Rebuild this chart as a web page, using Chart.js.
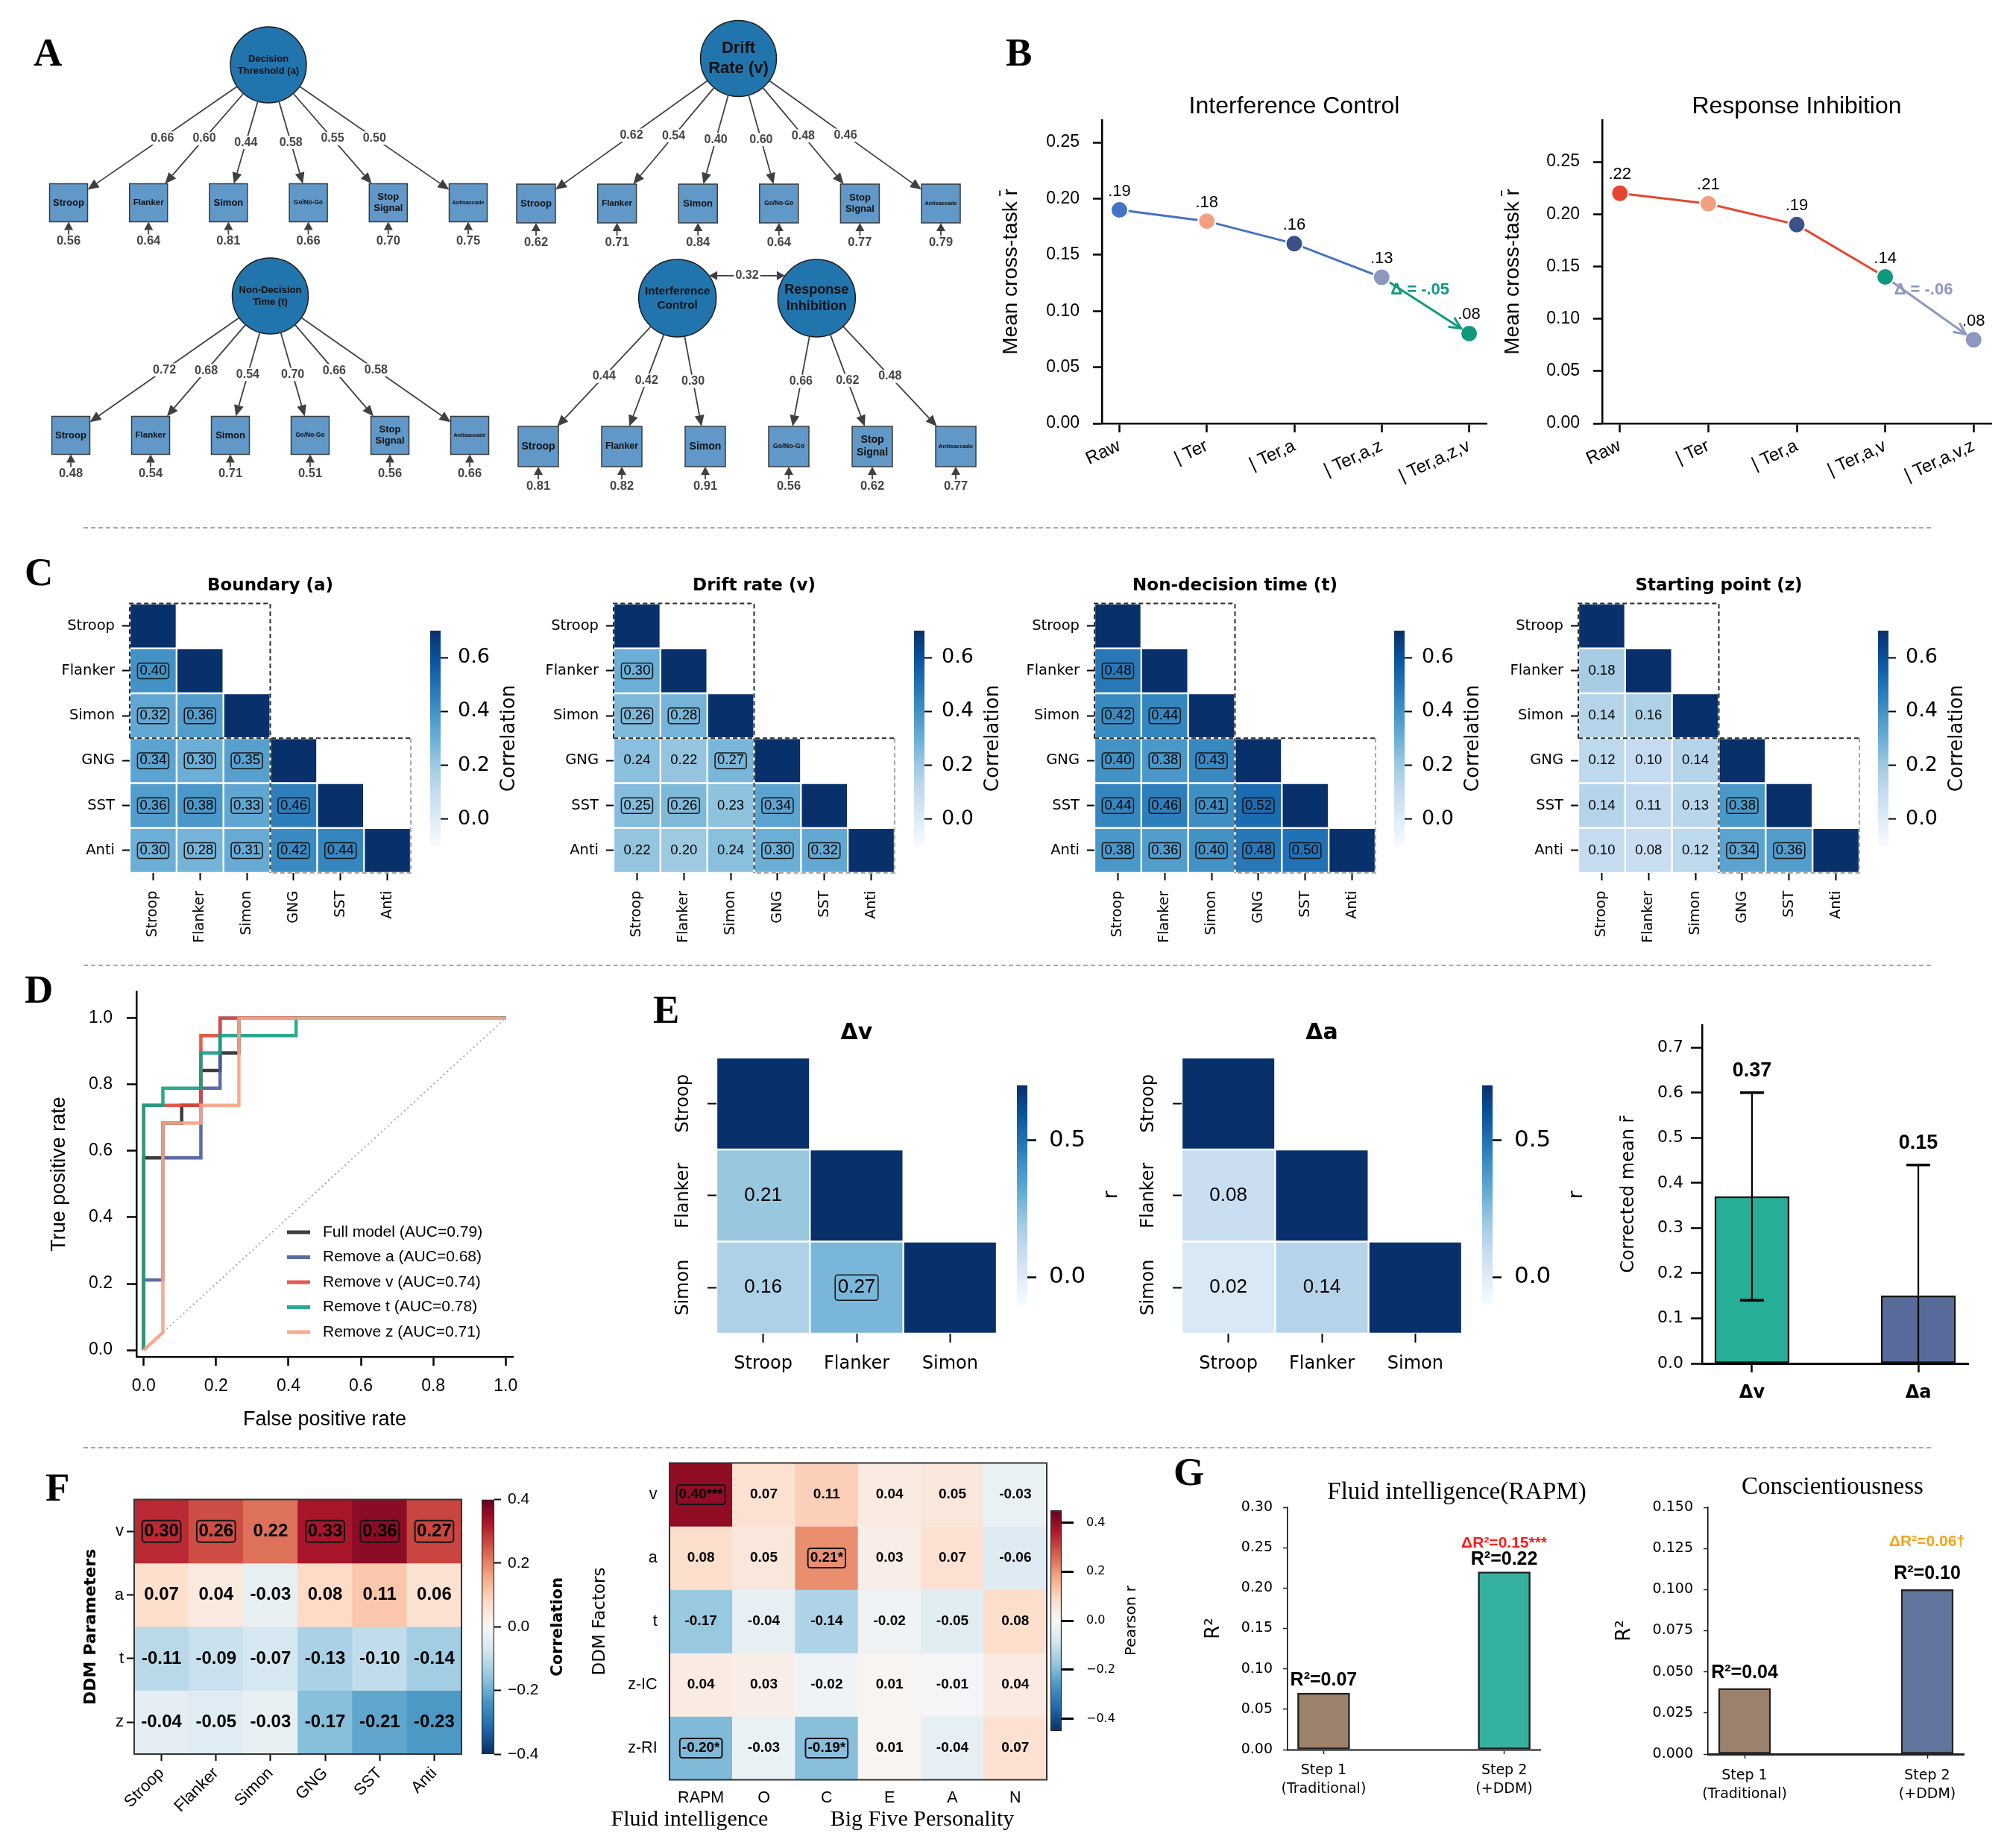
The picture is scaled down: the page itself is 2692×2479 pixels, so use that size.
<!DOCTYPE html>
<html><head><meta charset="utf-8">
<script src="https://cdn.jsdelivr.net/npm/chart.js@4.4.1/dist/chart.umd.min.js"></script>
<style>
html,body{margin:0;padding:0;background:#fff;}
#root{position:relative;width:2692px;height:2479px;overflow:hidden;background:#fff;}
.lbl{position:absolute;font-family:"Liberation Serif","Times New Roman",serif;font-weight:bold;font-size:53px;line-height:53px;color:#000;}
.sep{position:absolute;height:0;border-top:2px dashed #a8a8a8;}
</style></head>
<body><div id="root">
<div class="lbl" style="left:45px;top:44px">A</div>
<div class="lbl" style="left:1349px;top:44px">B</div>
<div class="lbl" style="left:33px;top:741px">C</div>
<div class="lbl" style="left:33px;top:1301px">D</div>
<div class="lbl" style="left:876px;top:1328px">E</div>
<div class="lbl" style="left:61px;top:1969px">F</div>
<div class="lbl" style="left:1574px;top:1948px">G</div>
<div class="sep" style="left:112px;top:707px;width:2478px"></div>
<div class="sep" style="left:112px;top:1294px;width:2478px"></div>
<div class="sep" style="left:112px;top:1941px;width:2478px"></div>
</div>
<script>
// ======================= DATA =======================
// Panel A – SEM loadings / residuals
const semIndicators = ['Stroop','Flanker','Simon','Go/No-Go','Stop\nSignal','Antisaccade'];
const semThresholdLoadings = [0.66,0.60,0.44,0.58,0.55,0.50];
const semThresholdErrors   = [0.56,0.64,0.81,0.66,0.70,0.75];
const semDriftLoadings     = [0.62,0.54,0.40,0.60,0.48,0.46];
const semDriftErrors       = [0.62,0.71,0.84,0.64,0.77,0.79];
const semNdtLoadings       = [0.72,0.68,0.54,0.70,0.66,0.58];
const semNdtErrors         = [0.48,0.54,0.71,0.51,0.56,0.66];
const semTwoFactorNames    = ['Interference\nControl','Response\nInhibition'];
const semTwoFactorOf       = [0,0,0,1,1,1];
const semTwoFactorLoadings = [0.44,0.42,0.30,0.66,0.62,0.48];
const semTwoFactorErrors   = [0.81,0.82,0.91,0.56,0.62,0.77];
const semTwoFactorCov      = 0.32;

// Panel B
const bStagesIC = ['Raw','| Ter','| Ter,a','| Ter,a,z','| Ter,a,z,v'];
const bValuesIC = [0.19,0.18,0.16,0.13,0.08];
const bStagesRI = ['Raw','| Ter','| Ter,a','| Ter,a,v','| Ter,a,v,z'];
const bValuesRI = [0.22,0.21,0.19,0.14,0.08];
const bTicks = [0,0.05,0.10,0.15,0.20,0.25];

// Panel C
const cTasks = ['Stroop','Flanker','Simon','GNG','SST','Anti'];
const cTaskGroups = [3,3];
const cTitles = ['Boundary (a)','Drift rate (v)','Non-decision time (t)','Starting point (z)'];
const cBoundary = [[1],[0.40,1],[0.32,0.36,1],[0.34,0.30,0.35,1],[0.36,0.38,0.33,0.46,1],[0.30,0.28,0.31,0.42,0.44,1]];
const cDrift    = [[1],[0.30,1],[0.26,0.28,1],[0.24,0.22,0.27,1],[0.25,0.26,0.23,0.34,1],[0.22,0.20,0.24,0.30,0.32,1]];
const cNdt      = [[1],[0.48,1],[0.42,0.44,1],[0.40,0.38,0.43,1],[0.44,0.46,0.41,0.52,1],[0.38,0.36,0.40,0.48,0.50,1]];
const cStart    = [[1],[0.18,1],[0.14,0.16,1],[0.12,0.10,0.14,1],[0.14,0.11,0.13,0.38,1],[0.10,0.08,0.12,0.34,0.36,1]];
const cColorTicks = [0,0.2,0.4,0.6];

// Panel D – ROC curves
const dModels = ['Full model','Remove a','Remove v','Remove t','Remove z'];
const dAUC = [0.79,0.68,0.74,0.78,0.71];
const dFpr = [
  [0,0,0.053,0.053,0.105,0.105,0.158,0.158,0.211,0.211,0.263,0.263,1],
  [0,0,0.053,0.053,0.158,0.158,0.211,0.211,1],
  [0,0,0.158,0.158,0.211,0.211,1],
  [0,0,0.053,0.053,0.158,0.158,0.211,0.211,0.421,0.421,1],
  [0,0.053,0.053,0.158,0.158,0.263,0.263,1]
];
const dTpr = [
  [0,0.579,0.579,0.684,0.684,0.737,0.737,0.842,0.842,0.895,0.895,1,1],
  [0,0.211,0.211,0.579,0.579,0.789,0.789,1,1],
  [0,0.737,0.737,0.947,0.947,1,1],
  [0,0.737,0.737,0.789,0.789,0.895,0.895,0.947,0.947,1,1],
  [0,0.053,0.684,0.684,0.737,0.737,1,1]
];
const dTicks = [0,0.2,0.4,0.6,0.8,1.0];

// Panel E
const eTasks = ['Stroop','Flanker','Simon'];
const eDeltaV = [[1],[0.21,1],[0.16,0.27,1]];
const eDeltaA = [[1],[0.08,1],[0.02,0.14,1]];
const eColorTicks = [0,0.5];
const eBarLabels = ['Δv','Δa'];
const eBarMeans = [0.37,0.15];
const eBarErr = [0.23,0.29];
const eBarTicks = [0,0.1,0.2,0.3,0.4,0.5,0.6,0.7];

// Panel F
const fParams = ['v','a','t','z'];
const fTasks = ['Stroop','Flanker','Simon','GNG','SST','Anti'];
const fTaskCorr = [
  [0.30,0.26,0.22,0.33,0.36,0.27],
  [0.07,0.04,-0.03,0.08,0.11,0.06],
  [-0.11,-0.09,-0.07,-0.13,-0.10,-0.14],
  [-0.04,-0.05,-0.03,-0.17,-0.21,-0.23]
];
const fFactors = ['v','a','t','z-IC','z-RI'];
const fOutcomes = ['RAPM','O','C','E','A','N'];
const fOutcomeCorr = [
  [0.40,0.07,0.11,0.04,0.05,-0.03],
  [0.08,0.05,0.21,0.03,0.07,-0.06],
  [-0.17,-0.04,-0.14,-0.02,-0.05,0.08],
  [0.04,0.03,-0.02,0.01,-0.01,0.04],
  [-0.20,-0.03,-0.19,0.01,-0.04,0.07]
];
const fOutcomeStars = [
  ['***','','','','',''],
  ['','','*','','',''],
  ['','','','','',''],
  ['','','','','',''],
  ['*','','*','','','']
];
const fLeftTicks = [-0.4,-0.2,0,0.2,0.4];
const fRightTicks = [-0.4,-0.2,0,0.2,0.4];

// Panel G
const gSteps = [['Step 1','(Traditional)'],['Step 2','(+DDM)']];
const gRapmR2 = [0.07,0.22];
const gRapmSig = '***';
const gConscR2 = [0.04,0.10];
const gConscSig = '†';
const gRapmTicks = [0,0.05,0.10,0.15,0.20,0.25,0.30];
const gConscTicks = [0,0.025,0.050,0.075,0.100,0.125,0.150];

// ======================= HELPERS =======================
const AR = '"Liberation Sans", Arial, Helvetica, sans-serif';
const DV = '"DejaVu Sans", Verdana, sans-serif';
const TM = '"Liberation Serif", "Times New Roman", serif';
Chart.defaults.font.family = AR;
Chart.defaults.color = '#000';

const BLUES = ['#f7fbff','#deebf7','#c6dbef','#9ecae1','#6baed6','#4292c6','#2171b5','#08519c','#08306b'];
const RDBU_R = ['#053061','#2166ac','#4393c3','#92c5de','#d1e5f0','#f7f7f7','#fddbc7','#f4a582','#d6604d','#b2182b','#67001f'];
function hexRgb(h){return [parseInt(h.slice(1,3),16),parseInt(h.slice(3,5),16),parseInt(h.slice(5,7),16)];}
function cmap(stops,t){
  t=Math.max(0,Math.min(1,t));
  const n=stops.length-1,f=t*n,i=Math.min(Math.floor(f),n-1),u=f-i;
  const a=hexRgb(stops[i]),b=hexRgb(stops[i+1]);
  return 'rgb('+Math.round(a[0]+(b[0]-a[0])*u)+','+Math.round(a[1]+(b[1]-a[1])*u)+','+Math.round(a[2]+(b[2]-a[2])*u)+')';
}
function fsOf(font){const m=/([\d.]+)px/.exec(font);return m?parseFloat(m[1]):12;}
function txt(ctx,s,x,y,font,color,align,base,rot,lh){
  ctx.save();
  ctx.font=font;ctx.fillStyle=color||'#000';
  ctx.textAlign=align||'center';ctx.textBaseline=base||'middle';
  ctx.translate(x,y);if(rot)ctx.rotate(rot);
  const lines=String(s).split('\n');const L=lh||fsOf(font)*1.2;
  lines.forEach((ln,i)=>ctx.fillText(ln,0,(i-(lines.length-1)/2)*L));
  ctx.restore();
}
function rrect(ctx,x,y,w,h,r){ctx.beginPath();ctx.moveTo(x+r,y);ctx.arcTo(x+w,y,x+w,y+h,r);ctx.arcTo(x+w,y+h,x,y+h,r);ctx.arcTo(x,y+h,x,y,r);ctx.arcTo(x,y,x+w,y,r);ctx.closePath();}
function boxedText(ctx,s,x,y,font,boxed,padX,h,lw){
  if(boxed){ctx.save();ctx.font=font;const w=ctx.measureText(s).width+2*padX;rrect(ctx,x-w/2,y-h/2,w,h,3.5);ctx.lineWidth=lw;ctx.strokeStyle='#151515';ctx.stroke();ctx.restore();}
  txt(ctx,s,x,y,font,'#000');
}
function labelBg(ctx,s,x,y,font,color){
  ctx.save();ctx.font=font;const w=ctx.measureText(s).width+4;const fs=fsOf(font);
  ctx.fillStyle='#fff';ctx.fillRect(x-w/2,y-fs*0.55,w,fs*1.1);ctx.restore();
  txt(ctx,s,x,y,font,color);
}
function arrow(ctx,x1,y1,x2,y2,hl,hw,color,lw){
  const a=Math.atan2(y2-y1,x2-x1),c=Math.cos(a),s=Math.sin(a);
  const bx=x2-hl*c,by=y2-hl*s;
  ctx.save();ctx.strokeStyle=color;ctx.fillStyle=color;ctx.lineWidth=lw;
  ctx.beginPath();ctx.moveTo(x1,y1);ctx.lineTo(bx,by);ctx.stroke();
  ctx.beginPath();ctx.moveTo(x2,y2);ctx.lineTo(bx-hw*s,by+hw*c);ctx.lineTo(bx+hw*s,by-hw*c);ctx.closePath();ctx.fill();
  ctx.restore();
}
const root=document.getElementById('root');
function mk(area,ax,cfg,ex){
  ax=Object.assign({left:0,right:0,top:0,bottom:0},ax||{});
  ex=Object.assign({l:30,r:40,t:40,b:30},ex||{});
  const L=Math.floor(area[0]-ax.left-ex.l),T=Math.floor(area[1]-ax.top-ex.t);
  const R=Math.ceil(area[2]+ax.right+ex.r),B=Math.ceil(area[3]+ax.bottom+ex.b);
  const W=R-L,H=B-T;
  const cv=document.createElement('canvas');
  cv.width=W;cv.height=H;
  cv.style.cssText='position:absolute;left:'+L+'px;top:'+T+'px;width:'+W+'px;height:'+H+'px;';
  root.appendChild(cv);
  const o=cfg.options=cfg.options||{};
  o.responsive=false;o.maintainAspectRatio=false;o.animation=false;o.devicePixelRatio=1;o.events=[];
  o.layout={autoPadding:false,padding:{left:area[0]-ax.left-L,right:R-area[2]-ax.right,top:area[1]-ax.top-T,bottom:B-area[3]-ax.bottom}};
  for(const k in o.scales){
    const s=o.scales[k];
    const pos=s.position||(k[0]==='x'?'bottom':'left');
    s.position=pos;
    const size=ax[pos];
    s.afterFit=(sc)=>{if(pos==='left'||pos==='right')sc.width=size;else sc.height=size;};
  }
  o.plugins=Object.assign({legend:{display:false},tooltip:{enabled:false},title:{display:false}},o.plugins||{});
  return new Chart(cv.getContext('2d'),cfg);
}
function tickGrid(len,w,color){return {display:true,drawOnChartArea:false,drawTicks:len>0,tickLength:len,tickWidth:w,tickColor:color||'#000',offset:false};}

// ======================= PANEL A =======================
const semBoxFont={'Stroop':13,'Flanker':11.5,'Simon':13,'Go/No-Go':8.3,'Stop\nSignal':13,'Antisaccade':7.3};
function semTree(geo,factorNames,factorFont,factorOf,loadings,errors,cov){
  const ux=(geo.x5-geo.x0)/5,uy=geo.yi-geo.yf;
  const area=[geo.x0-0.6*ux,geo.yf-0.35*uy,geo.x5+0.6*ux,geo.yi+0.55*uy];
  const nF=factorNames.length;
  const fPos=factorNames.map((_,k)=>5*(k+1)/(nF+1));
  mk(area,{},{
    type:'scatter',
    data:{datasets:[
      {data:semIndicators.map((_,i)=>({x:i,y:0})),pointStyle:'rect',pointRadius:geo.box*Math.SQRT1_2,pointHoverRadius:geo.box*Math.SQRT1_2,
       pointBackgroundColor:'#6198c8',pointBorderColor:'#3a3a3a',pointBorderWidth:1.5,clip:false,showLine:false},
      {data:fPos.map(x=>({x:x,y:1})),pointStyle:'circle',pointRadius:geo.r,pointHoverRadius:geo.r,
       pointBackgroundColor:'#2274ad',pointBorderColor:'#1b1b1b',pointBorderWidth:1.5,clip:false,showLine:false}
    ]},
    options:{scales:{x:{type:'linear',min:-0.6,max:5.6,display:false},y:{type:'linear',min:-0.55,max:1.35,display:false}}},
    plugins:[{id:'sem',afterDatasetsDraw(chart){
      const ctx=chart.ctx,xs=chart.scales.x,ys=chart.scales.y,half=geo.box/2,lc='#404040';
      semIndicators.forEach((name,i)=>{
        const k=factorOf?factorOf[i]:0;
        const fx=xs.getPixelForValue(fPos[k]),fy=ys.getPixelForValue(1);
        const bx=xs.getPixelForValue(i),by=ys.getPixelForValue(0);
        const dx=bx-fx,dy=by-fy,len=Math.hypot(dx,dy);
        const sx=fx+dx/len*geo.r,sy=fy+dy/len*geo.r;
        const tb=Math.min(half/Math.max(Math.abs(dx),1e-6),half/Math.max(Math.abs(dy),1e-6));
        const ex=bx-dx*tb,ey=by-dy*tb;
        arrow(ctx,sx,sy,ex,ey,15,6.5,lc,1.8);
        labelBg(ctx,loadings[i].toFixed(2),(sx+ex)/2,(sy+ey)/2,'bold 16px '+AR,'#454545');
        arrow(ctx,bx,by+half+17,bx,by+half,11,6,lc,1.8);
        txt(ctx,errors[i].toFixed(2),bx,by+half+26,'bold 16.5px '+AR,'#454545');
        const fs=semBoxFont[name]*geo.fs;
        txt(ctx,name,bx,by,'bold '+fs+'px '+AR,'#111','center','middle',0,fs*1.2);
      });
      factorNames.forEach((nm,k)=>{
        txt(ctx,nm,xs.getPixelForValue(fPos[k]),ys.getPixelForValue(1),'bold '+factorFont[k]+'px '+AR,'#111','center','middle',0,factorFont[k]*1.22);
      });
      if(cov!=null&&nF===2){
        const y=ys.getPixelForValue(1)-0.58*geo.r;
        const x1=xs.getPixelForValue(fPos[0])+0.815*geo.r,x2=xs.getPixelForValue(fPos[1])-0.815*geo.r;
        const mx=(x1+x2)/2;
        arrow(ctx,mx,y,x1,y,11,6,lc,1.8);arrow(ctx,mx,y,x2,y,11,6,lc,1.8);
        labelBg(ctx,cov.toFixed(2),mx,y,'bold 16px '+AR,'#454545');
      }
    }}]
  },{l:0,r:0,t:0,b:0});
}
semTree({x0:92,x5:628,yf:87,yi:272,r:51,box:51,fs:1},['Decision\nThreshold (a)'],[13],null,semThresholdLoadings,semThresholdErrors,null);
semTree({x0:719,x5:1262,yf:78.5,yi:273,r:51,box:52,fs:1},['Drift\nRate (v)'],[22],null,semDriftLoadings,semDriftErrors,null);
semTree({x0:95,x5:630,yf:397,yi:584,r:51,box:51,fs:1},['Non-Decision\nTime (t)'],[13],null,semNdtLoadings,semNdtErrors,null);
semTree({x0:722,x5:1282,yf:400,yi:599,r:52,box:54,fs:1.08},semTwoFactorNames,[15.3,18],semTwoFactorOf,semTwoFactorLoadings,semTwoFactorErrors,semTwoFactorCov);

// ======================= PANEL B =======================
function dotFmt(v){return v.toFixed(2).replace(/^(-?)0\./,'$1.');}
function bPanel(area,stages,values,ptColors,lineColor,arrowColor,yMax,title,axLeft){
  const n=values.length;
  mk(area,{left:axLeft,bottom:110},{
    type:'line',
    data:{datasets:[{data:values.map((v,i)=>({x:i,y:v})),borderColor:lineColor,borderWidth:3,tension:0,clip:false,
      segment:{borderColor:c=>c.p0DataIndex===n-2?arrowColor:lineColor},
      pointRadius:11.5,pointHoverRadius:11.5,pointBackgroundColor:ptColors,pointBorderColor:'#ffffff',pointBorderWidth:2}]},
    options:{scales:{
      x:{type:'linear',min:-0.2,max:4.2,afterBuildTicks:s=>{s.ticks=stages.map((_,i)=>({value:i}));},
        ticks:{callback:(v,i)=>stages[i],font:{family:AR,size:24},color:'#000',minRotation:25,maxRotation:25,padding:4,autoSkip:false},
        grid:tickGrid(12,2.5),border:{display:true,color:'#000',width:2.5}},
      y:{type:'linear',min:0,max:yMax,afterBuildTicks:s=>{s.ticks=bTicks.map(v=>({value:v}));},
        ticks:{callback:v=>v.toFixed(2),font:{family:AR,size:23},color:'#000',padding:18},
        grid:tickGrid(12,2.5),border:{display:true,color:'#000',width:2.5},
        title:{display:true,text:'Mean cross-task r\u0304',font:{family:AR,size:28},color:'#000',padding:0}}
    }},
    plugins:[{id:'bAnn',afterDraw(chart){
      const ctx=chart.ctx,xs=chart.scales.x,ys=chart.scales.y,a=chart.chartArea;
      values.forEach((v,i)=>txt(ctx,dotFmt(v),xs.getPixelForValue(i),ys.getPixelForValue(v)-25,'22px '+AR,'#000'));
      const x3=xs.getPixelForValue(n-2),y3=ys.getPixelForValue(values[n-2]);
      const x4=xs.getPixelForValue(n-1),y4=ys.getPixelForValue(values[n-1]);
      const dx=x4-x3,dy=y4-y3,L=Math.hypot(dx,dy);
      const tx=x4-dx/L*13,ty=y4-dy/L*13;
      const an=Math.atan2(dy,dx);
      ctx.save();ctx.strokeStyle=arrowColor;ctx.lineWidth=3;ctx.lineCap='round';
      ctx.beginPath();
      ctx.moveTo(tx-16*Math.cos(an-0.45),ty-16*Math.sin(an-0.45));ctx.lineTo(tx,ty);
      ctx.lineTo(tx-16*Math.cos(an+0.45),ty-16*Math.sin(an+0.45));ctx.stroke();ctx.restore();
      txt(ctx,'Δ = '+dotFmt(values[n-1]-values[n-2]),x3+12,y3+17,'bold 22px '+AR,arrowColor,'left');
      txt(ctx,title,(a.left+a.right)/2,a.top-18,'32px '+AR,'#000');
    }}]
  },{l:10,r:40,t:80,b:20});
}
bPanel([1478,161,1994,568],bStagesIC,bValuesIC,['#4472c4','#f3a082','#3c5188','#8d97c0','#10997e'],'#4472c4','#10997e',0.27,'Interference Control',139);
bPanel([2149,161,2671,568],bStagesRI,bValuesRI,['#e4462f','#f3a082','#3c5188','#10997e','#8d97c0'],'#e4462f','#8d97c0',0.29,'Response Inhibition',137);

// ======================= HEATMAP BUILDERS =======================
const CMIN=-0.1,CMAX=0.7;
function triHeat(o){
  const n=o.tasks.length;
  mk(o.area,{left:o.axLeft,bottom:o.axBottom},{
    type:'bar',
    data:{labels:o.tasks,datasets:o.vals.map((row,i)=>({
      data:o.tasks.map((_,j)=>j<=i?[i,i+1]:null),
      backgroundColor:o.tasks.map((_,j)=>j<=i?cmap(BLUES,(row[j]-CMIN)/(CMAX-CMIN)):'rgba(0,0,0,0)'),
      borderColor:'#ffffff',borderWidth:1.5,borderSkipped:false,barPercentage:1,categoryPercentage:1,grouped:false}))},
    options:{scales:{
      x:{type:'category',offset:true,grid:tickGrid(o.tickLen,2),border:{display:false},
        ticks:{font:{family:DV,size:o.xFont},color:'#000',minRotation:o.xRot,maxRotation:o.xRot,padding:o.xPad,autoSkip:false}},
      y:{type:'linear',min:0,max:n,reverse:true,afterBuildTicks:s=>{s.ticks=o.tasks.map((_,i)=>({value:i+0.5}));},
        grid:tickGrid(o.tickLen,2),border:{display:false},
        ticks:{display:!o.rotY,callback:(v,i)=>o.tasks[i],font:{family:DV,size:o.yFont},color:'#000',padding:o.yPad}}
    }},
    plugins:[{id:'tri',afterDraw(chart){
      const ctx=chart.ctx,a=chart.chartArea,xs=chart.scales.x,ys=chart.scales.y;
      const cw=(a.right-a.left)/n,ch=(a.bottom-a.top)/n;
      o.vals.forEach((row,i)=>row.forEach((v,j)=>{
        if(j>=i)return;
        boxedText(ctx,v.toFixed(2),xs.getPixelForValue(j),ys.getPixelForValue(i+0.5),o.annFont,Math.abs(v)>=0.25,o.boxPad,o.boxH,1.5);
      }));
      if(o.groups){
        const g=o.groups[0];
        ctx.save();ctx.setLineDash([6,4]);ctx.lineWidth=2;ctx.strokeStyle='#2a2a2a';
        ctx.beginPath();
        ctx.moveTo(a.left,a.top+g*ch);ctx.lineTo(a.left,a.top);ctx.lineTo(a.left+g*cw,a.top);ctx.lineTo(a.left+g*cw,a.top+g*ch);
        ctx.moveTo(a.left,a.top+g*ch);ctx.lineTo(a.right,a.top+g*ch);
        ctx.moveTo(a.left+g*cw,a.top+g*ch);ctx.lineTo(a.left+g*cw,a.bottom);
        ctx.stroke();
        ctx.strokeStyle='#a9a9a9';ctx.beginPath();
        ctx.moveTo(a.right,a.top+g*ch);ctx.lineTo(a.right,a.bottom);ctx.lineTo(a.left+g*cw,a.bottom);ctx.stroke();
        ctx.restore();
      }
      if(o.rotY){
        o.tasks.forEach((t,i)=>txt(ctx,t,a.left-o.rotYdx,ys.getPixelForValue(i+0.5),o.yFont+'px '+DV,'#000','center','middle',-Math.PI/2));
      }
      txt(ctx,o.title,(a.left+a.right)/2,a.top-o.titleDy,o.titleFont,'#000');
    }}]
  },{l:30,r:40,t:75,b:30});
}
function colorbar(o){
  mk(o.area,{right:o.axRight},{
    type:'bar',
    data:{labels:[''],datasets:[{data:[[o.vmin,o.vmax]],
      backgroundColor:c=>{const a=c.chart.chartArea;if(!a)return o.stops[0];const g=c.chart.ctx.createLinearGradient(0,a.bottom,0,a.top);o.stops.forEach((s,i)=>g.addColorStop(i/(o.stops.length-1),s));return g;},
      borderColor:'#222',borderWidth:o.border||0,borderSkipped:false,barPercentage:1,categoryPercentage:1}]},
    options:{scales:{
      x:{type:'category',display:false},
      y:{position:'right',type:'linear',min:o.vmin,max:o.vmax,afterBuildTicks:s=>{s.ticks=o.ticks.map(v=>({value:v}));},
        ticks:{callback:o.fmt,font:o.font,color:'#000',padding:o.pad},grid:tickGrid(o.tickLen,o.tickW),border:{display:false}}
    }},
    plugins:[{id:'cbt',afterDraw(chart){
      const a=chart.chartArea;
      if(o.title)txt(chart.ctx,o.title,a.right+o.titleDx,(a.top+a.bottom)/2,o.titleFont,'#000','center','middle',-Math.PI/2);
    }}]
  },{l:10,r:40,t:40,b:40});
}

// ======================= PANEL C =======================
const cData=[cBoundary,cDrift,cNdt,cStart];
const cLeft=[174,823,1468,2117];
const cBar=[577,1226,1870,2519];
cData.forEach((vals,k)=>{
  triHeat({area:[cLeft[k],809.5,cLeft[k]+377,1171],tasks:cTasks,vals:vals,groups:cTaskGroups,
    axLeft:130,axBottom:110,tickLen:10,xFont:19,yFont:19.5,xRot:90,xPad:14,yPad:10,
    annFont:'18.5px '+AR,boxPad:3,boxH:21,title:cTitles[k],titleFont:'bold 23px '+DV,titleDy:23.5});
  colorbar({area:[cBar[k],846,cBar[k]+14,1135],stops:BLUES,vmin:CMIN,vmax:CMAX,ticks:cColorTicks,fmt:v=>v.toFixed(1),
    font:{family:DV,size:27},pad:13,tickLen:10,tickW:2,axRight:110,title:'Correlation',titleFont:'26px '+DV,titleDx:92});
});

// ======================= PANEL D =======================
const dColors=['rgba(45,45,45,0.92)','rgba(72,92,155,0.9)','rgba(226,72,58,0.9)','rgba(22,160,132,0.9)','rgba(246,164,136,0.92)'];
mk([183,1330,688,1820],{left:120,bottom:101},{
  type:'scatter',
  data:{datasets:[{data:[{x:0,y:0},{x:1,y:1}],showLine:true,borderColor:'#aaaaaa',borderWidth:2,borderDash:[2,4],pointRadius:0,order:10}]
    .concat(dModels.map((m,k)=>({data:dFpr[k].map((x,i)=>({x:x,y:dTpr[k][i]})),showLine:true,borderColor:dColors[k],borderWidth:4.5,pointRadius:0,order:dModels.length-k})))},
  options:{scales:{
    x:{type:'linear',min:-0.02,max:1.02,afterBuildTicks:s=>{s.ticks=dTicks.map(v=>({value:v}));},
      ticks:{callback:v=>v.toFixed(1),font:{family:AR,size:23},color:'#000',padding:14},grid:tickGrid(12,2.5),border:{color:'#000',width:2.5},
      title:{display:true,text:'False positive rate',font:{family:AR,size:27},color:'#000',padding:0}},
    y:{type:'linear',min:-0.02,max:1.08,afterBuildTicks:s=>{s.ticks=dTicks.map(v=>({value:v}));},
      ticks:{callback:v=>v.toFixed(1),font:{family:AR,size:23},color:'#000',padding:19},grid:tickGrid(13,2.5),border:{color:'#000',width:2.5},
      title:{display:true,text:'True positive rate',font:{family:AR,size:27},color:'#000',padding:0}}
  }},
  plugins:[{id:'dLeg',afterDraw(chart){
    const a=chart.chartArea,ctx=chart.ctx;
    dModels.forEach((m,k)=>{
      const y=a.top+323+33.5*k;
      ctx.save();ctx.strokeStyle=dColors[k];ctx.lineWidth=5;ctx.beginPath();ctx.moveTo(a.left+202,y);ctx.lineTo(a.left+233,y);ctx.stroke();ctx.restore();
      txt(ctx,m+' (AUC='+dAUC[k].toFixed(2)+')',a.left+250,y,'21px '+AR,'#000','left');
    });
  }}]
});

// ======================= PANEL E =======================
[[961,eDeltaV,'Δv',1364],[1585,eDeltaA,'Δa',1988]].forEach(([x0,vals,title,cbx])=>{
  triHeat({area:[x0,1418.5,x0+376,1789],tasks:eTasks,vals:vals,groups:null,
    axLeft:90,axBottom:80,tickLen:12,xFont:24,yFont:24,xRot:0,xPad:14.6,yPad:10,rotY:true,rotYdx:44,
    annFont:'26px '+AR,boxPad:3.5,boxH:34,title:title,titleFont:'bold 30px '+DV,titleDy:32});
  colorbar({area:[cbx,1456,cbx+14,1750],stops:BLUES,vmin:CMIN,vmax:CMAX,ticks:eColorTicks,fmt:v=>v.toFixed(1),
    font:{family:DV,size:31},pad:17,tickLen:12,tickW:2.5,axRight:110,title:'r',titleFont:'26px '+DV,titleDx:113});
});
mk([2283,1375,2640,1829],{left:113,bottom:70},{
  type:'bar',
  data:{datasets:[{data:eBarMeans.map((v,i)=>({x:i,y:v})),backgroundColor:['#27ae96','#5a6b9b'],borderColor:'#151515',borderWidth:2.5,borderSkipped:false,barThickness:100}]},
  options:{scales:{
    x:{type:'linear',min:-0.3,max:1.3,offset:false,afterBuildTicks:s=>{s.ticks=eBarLabels.map((_,i)=>({value:i}));},
      ticks:{callback:(v,i)=>eBarLabels[i],font:{family:DV,size:24,weight:'bold'},color:'#000',padding:13.6,maxRotation:0,minRotation:0},
      grid:tickGrid(12,2.5),border:{color:'#000',width:3}},
    y:{type:'linear',min:0,max:0.75,afterBuildTicks:s=>{s.ticks=eBarTicks.map(v=>({value:v}));},
      ticks:{callback:v=>v.toFixed(1),font:{family:DV,size:22},color:'#000',padding:10},grid:tickGrid(15,2.5),border:{color:'#000',width:2.5},
      title:{display:true,text:'Corrected mean r\u0304',font:{family:DV,size:24},color:'#000',padding:0}}
  }},
  plugins:[{id:'eErr',afterDatasetsDraw(chart){
    const ctx=chart.ctx,xs=chart.scales.x,ys=chart.scales.y;
    eBarMeans.forEach((m,i)=>{
      const x=xs.getPixelForValue(i),hi=m+eBarErr[i],lo=m-eBarErr[i];
      const yT=ys.getPixelForValue(hi),yB=ys.getPixelForValue(Math.max(lo,0));
      ctx.save();ctx.strokeStyle='#000';ctx.lineWidth=2.2;ctx.beginPath();ctx.moveTo(x,yB);ctx.lineTo(x,yT);ctx.stroke();
      ctx.lineWidth=3.5;ctx.beginPath();ctx.moveTo(x-16,yT);ctx.lineTo(x+16,yT);
      if(lo>=0){ctx.moveTo(x-16,yB);ctx.lineTo(x+16,yB);}
      ctx.stroke();ctx.restore();
      txt(ctx,m.toFixed(2),x,yT-29,'bold 27px '+AR,'#000');
    });
  }}]
});

// ======================= PANEL F =======================
function rectHeat(o){
  const nr=o.rows.length;
  mk(o.area,{left:o.axLeft,bottom:o.axBottom},{
    type:'bar',
    data:{labels:o.cols,datasets:o.vals.map((row,i)=>({data:row.map(()=>[i,i+1]),
      backgroundColor:row.map(v=>cmap(RDBU_R,(v+o.vmax)/(2*o.vmax))),borderWidth:0,barPercentage:1,categoryPercentage:1,grouped:false}))},
    options:{scales:{
      x:{type:'category',offset:true,grid:tickGrid(o.xTick,2),border:{display:false},
        ticks:{font:{family:AR,size:o.xFont},color:'#000',minRotation:o.xRot,maxRotation:o.xRot,padding:o.xPad,autoSkip:false}},
      y:{type:'linear',min:0,max:nr,reverse:true,afterBuildTicks:s=>{s.ticks=o.rows.map((_,i)=>({value:i+0.5}));},
        grid:tickGrid(o.yTick,2),border:{display:false},
        ticks:{callback:(v,i)=>o.rows[i],font:{family:AR,size:o.yFont},color:'#000',padding:o.yPad},
        title:{display:true,text:o.yTitle,font:o.yTitleFont,color:'#000',padding:0}}
    }},
    plugins:[{id:'rh',afterDraw(chart){
      const ctx=chart.ctx,a=chart.chartArea,xs=chart.scales.x,ys=chart.scales.y;
      o.vals.forEach((row,i)=>row.forEach((v,j)=>{
        const star=o.stars?o.stars[i][j]:'';
        const boxed=o.stars?star!=='':Math.abs(v)>=0.25;
        boxedText(ctx,v.toFixed(2)+star,xs.getPixelForValue(j),ys.getPixelForValue(i+0.5),o.annFont,boxed,o.boxPad,o.boxH,2);
      }));
      ctx.save();ctx.strokeStyle='#333';ctx.lineWidth=2;ctx.strokeRect(a.left,a.top,a.right-a.left,a.bottom-a.top);ctx.restore();
      (o.extra||[]).forEach(e=>txt(ctx,e.t,a.left+e.dx,a.bottom+e.dy,e.font,'#000'));
    }}]
  });
}
rectHeat({area:[180,2011.5,619,2353],rows:fParams,cols:fTasks,vals:fTaskCorr,vmax:0.4,
  axLeft:71,axBottom:110,xTick:9,yTick:10,xFont:22,yFont:22,xRot:45,xPad:4,yPad:4,
  yTitle:'DDM Parameters',yTitleFont:{family:DV,size:22,weight:'bold'},annFont:'bold 24px '+AR,boxPad:2.5,boxH:29});
colorbar({area:[646,2011.5,663,2353],stops:RDBU_R,vmin:-0.4,vmax:0.4,ticks:fLeftTicks,fmt:v=>(v<0?'\u2212':'')+Math.abs(v).toFixed(1),
  font:{family:AR,size:21},pad:9,tickLen:9,tickW:2,axRight:110,border:1.5,title:'Correlation',titleFont:'bold 21px '+DV,titleDx:86});
rectHeat({area:[898,1962.5,1404,2387.5],rows:fFactors,cols:fOutcomes,vals:fOutcomeCorr,stars:fOutcomeStars,vmax:0.45,
  axLeft:107,axBottom:80,xTick:0,yTick:0,xFont:21.5,yFont:21.5,xRot:0,xPad:11.6,yPad:16.4,
  yTitle:'DDM Factors',yTitleFont:{family:DV,size:23},annFont:'bold 19px '+AR,boxPad:3,boxH:26,
  extra:[{t:'Fluid intelligence',dx:27,dy:53.5,font:'30px '+TM},{t:'Big Five Personality',dx:339,dy:53.5,font:'30px '+TM}]});
colorbar({area:[1409,2026,1424,2322],stops:RDBU_R,vmin:-0.45,vmax:0.45,ticks:fRightTicks,fmt:v=>(v<0?'\u2212':'')+Math.abs(v).toFixed(1),
  font:{family:DV,size:16},pad:17,tickLen:16,tickW:3,axRight:110,border:1.5,title:'Pearson r',titleFont:'20px '+DV,titleDx:94});

// ======================= PANEL G =======================
function gPanel(o){
  const d=o.vals[1]-o.vals[0];
  mk(o.area,{left:o.axLeft,bottom:70},{
    type:'bar',
    data:{datasets:[{data:o.vals.map((v,i)=>({x:i,y:v})),backgroundColor:o.colors,borderColor:'#222',borderWidth:2.5,borderSkipped:false,barThickness:70}]},
    options:{scales:{
      x:{type:'linear',min:-0.2,max:1.2,offset:false,afterBuildTicks:s=>{s.ticks=gSteps.map((_,i)=>({value:i}));},
        ticks:{callback:(v,i)=>gSteps[i],font:{family:DV,size:19,lineHeight:1.3},color:'#000',padding:o.xPad,maxRotation:0,minRotation:0},
        grid:tickGrid(6,1.5,'#222'),border:{color:o.xAxisColor,width:3}},
      y:{type:'linear',min:0,max:o.ticks[o.ticks.length-1],afterBuildTicks:s=>{s.ticks=o.ticks.map(v=>({value:v}));},
        ticks:{callback:v=>v.toFixed(o.dec),font:{family:DV,size:19},color:'#000',padding:14},
        grid:tickGrid(6,1.5,'#222'),border:{color:'#000',width:1.5},
        title:{display:true,text:'R²',font:{family:DV,size:26},color:'#000',padding:0}}
    }},
    plugins:[{id:'gAnn',afterDraw(chart){
      const ctx=chart.ctx,a=chart.chartArea,xs=chart.scales.x,ys=chart.scales.y;
      o.vals.forEach((v,i)=>txt(ctx,'R²='+v.toFixed(2),xs.getPixelForValue(i),ys.getPixelForValue(v)-o.lblDy,'bold 25px '+AR,'#000'));
      txt(ctx,'ΔR²='+d.toFixed(2)+o.sig,xs.getPixelForValue(1),ys.getPixelForValue(o.vals[1])-o.dDy,'bold 21px '+AR,o.dColor);
      txt(ctx,o.title,a.left+o.tDx,a.top+o.tDy,'33px '+TM,'#000');
    }}]
  },{l:10,r:130,t:90,b:20});
}
gPanel({area:[1727,2022,2066,2347],vals:gRapmR2,sig:gRapmSig,colors:['#9c826c','#35b29f'],ticks:gRapmTicks,dec:2,axLeft:114,xPad:9.6,xAxisColor:'#666',
  lblDy:17,dDy:38,dColor:'#ff1a1a',title:'Fluid intelligence(RAPM)',tDx:227,tDy:-20});
gPanel({area:[2291,2022,2634,2353],vals:gConscR2,sig:gConscSig,colors:['#9c826c','#62759f'],ticks:gConscTicks,dec:3,axLeft:127,xPad:10.6,xAxisColor:'#222',
  lblDy:21,dDy:64,dColor:'#f5a31a',title:'Conscientiousness',tDx:167,tDy:-27});
</script>
</body></html>
